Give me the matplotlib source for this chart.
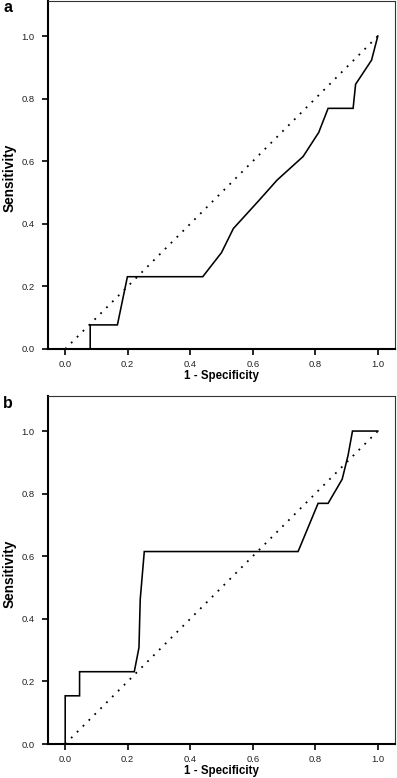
import matplotlib
matplotlib.use("Agg")
import matplotlib.pyplot as plt

plt.rcParams['font.family'] = ['Liberation Sans', 'DejaVu Sans']

# Panel a ROC curve
fpr_a = [0.0800, 0.0800, 0.167, 0.199, 0.440, 0.500, 0.538, 0.621, 0.678, 0.761, 0.811, 0.841, 0.921, 0.929, 0.980, 1.0]
tpr_a = [0.0, 0.077, 0.077, 0.231, 0.231, 0.308, 0.385, 0.476, 0.540, 0.615, 0.692, 0.769, 0.769, 0.846, 0.923, 1.0]

# Panel b ROC curve
fpr_b = [0.0, 0.0, 0.046, 0.046, 0.221, 0.236, 0.240, 0.253, 0.745, 0.809, 0.841, 0.886, 0.905, 0.919, 1.0]
tpr_b = [0.0, 0.154, 0.154, 0.231, 0.231, 0.308, 0.462, 0.615, 0.615, 0.769, 0.769, 0.846, 0.923, 1.0, 1.0]

ref_x = [0.0, 1.0]
ref_y = [0.0, 1.0]

ticks = [0.0, 0.2, 0.4, 0.6, 0.8, 1.0]
tick_labels = ["0.0", "0.2", "0.4", "0.6", "0.8", "1.0"]

W, H = 397, 778
fig = plt.figure(figsize=(W / 100, H / 100), dpi=100)

def px_axes(left, top, right, bottom):
    return fig.add_axes([left / W, 1 - bottom / H, (right - left) / W, (bottom - top) / H])

ax_a = px_axes(48, 1, 395, 349)
ax_b = px_axes(48, 396, 395, 744)

for ax, fx, ty, lab, ly, ylc in [(ax_a, fpr_a, tpr_a, "a", 8, 0.491), (ax_b, fpr_b, tpr_b, "b", 404, 0.489)]:
    ax.plot(ref_x, ref_y, color='black', lw=1.3, linestyle=(0, (1, 3.6)))
    ax.plot(fx, ty, color='black', lw=1.15, solid_joinstyle='miter')
    ax.set_xlim(-0.055, 1.055)
    ax.set_ylim(0.0, 1.112)
    ax.set_xticks(ticks)
    ax.set_xticklabels(tick_labels)
    ax.set_yticks(ticks)
    ax.set_yticklabels(tick_labels)
    ax.tick_params(axis='both', direction='out', length=4, width=1.2, labelsize=6.8, pad=4,
                   colors='black', labelcolor='#222222')
    ax.tick_params(axis='y', pad=5.5)
    for s in ['left', 'bottom']:
        ax.spines[s].set_linewidth(1.5)
        ax.spines[s].set_color('black')
    for s in ['top', 'right']:
        ax.spines[s].set_linewidth(0.8)
        ax.spines[s].set_color('#333333')
    ax.set_xlabel("1 - Specificity", fontsize=8.3, fontweight='bold')
    ax.set_ylabel("Sensitivity", fontsize=9.8, fontweight='bold')
    ax.xaxis.label.set_va('center')
    ax.yaxis.label.set_va('center')
    ax.xaxis.set_label_coords(0.5, -(27 / 348))
    ax.yaxis.set_label_coords(-(38 / 347), ylc)
    fig.text(3 / W, 1 - ly / H, lab, fontsize=11.5, fontweight='bold', ha='left', va='center')

fig.savefig("out.png", dpi=100)
